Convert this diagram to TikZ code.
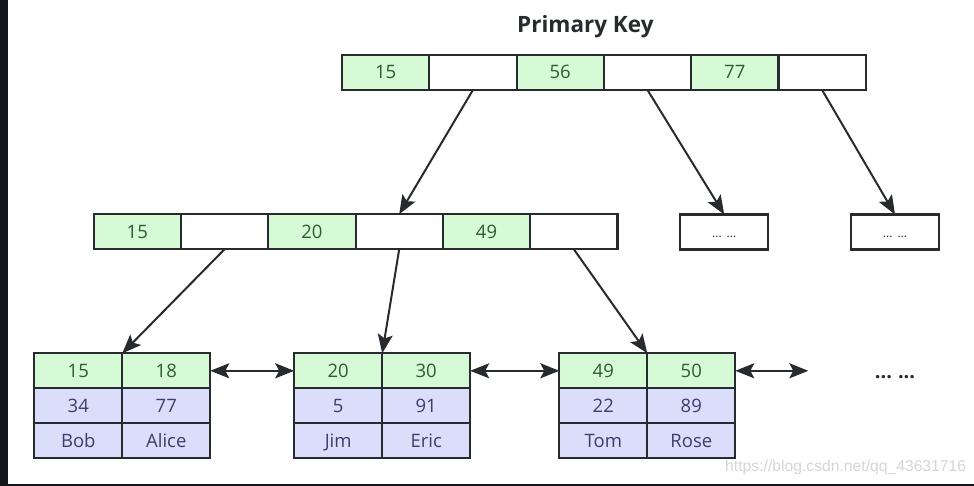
\documentclass[tikz,border=0pt]{standalone}
\usepackage{fontspec}
\setmainfont{Open Sans}
\usepackage{tikz}
\usetikzlibrary{positioning,arrows.meta}
\definecolor{verdeclave}{RGB}{214,250,214}
\definecolor{azuldato}{RGB}{219,222,250}
\definecolor{borde}{RGB}{40,43,45}
\definecolor{textoverde}{RGB}{47,92,47}
\definecolor{textoazul}{RGB}{58,62,108}
\definecolor{marco}{RGB}{20,22,30}
\tikzset{celda/.style={draw=borde, line width=2.1pt, minimum width=87.3pt, minimum height=35pt, inner sep=0pt, outer sep=0pt, text height=12.8pt, text depth=0pt, font=\fontsize{18.5}{18.5}\selectfont}}
\tikzset{clave/.style={celda, fill=verdeclave, text=textoverde}}
\tikzset{hueco/.style={celda, fill=white}}
\tikzset{hoja/.style={clave, minimum width=88pt}}
\tikzset{dato/.style={celda, fill=azuldato, text=textoazul, minimum width=88pt}}
\tikzset{puntos/.style={hueco, minimum width=88pt, text height=12pt, text=borde, font=\fontsize{12}{12}\selectfont}}
\tikzset{punta/.tip={Stealth[length=19pt, width=15pt, inset=4pt]}}
\tikzset{flecha/.style={line width=2pt, draw=borde, -punta}}
\tikzset{doble/.style={line width=2pt, draw=borde, punta-punta}}

\begin{document}
\begin{tikzpicture}[x=1pt, y=-1pt]
            \useasboundingbox (0,0) rectangle (974,486);
            \fill[white] (0,0) rectangle (974,486);
            \fill[marco] (0,0) rectangle (8,486);
            \fill[marco] (0,484) rectangle (974,486);

            \node[anchor=base, text=borde, font=\fontsize{22.5}{22.5}\selectfont\bfseries] (titulo) at (585.4,32.5) {Primary Key};

            \node[clave] (r1) at (385.6,72.5) {15};
            \node[hueco, right=0pt of r1] (r2) {};
            \node[clave, right=0pt of r2] (r3) {56};
            \node[hueco, right=0pt of r3] (r4) {};
            \node[clave, right=0pt of r4] (r5) {77};
            \node[hueco, right=0pt of r5] (r6) {};

            \node[clave] (m1) at (137.3,231.7) {15};
            \node[hueco, right=0pt of m1] (m2) {};
            \node[clave, right=0pt of m2] (m3) {20};
            \node[hueco, right=0pt of m3] (m4) {};
            \node[clave, right=0pt of m4] (m5) {49};
            \node[hueco, right=0pt of m5] (m6) {};
            \node[puntos] (m7) at (724.2,232) {...\hspace{5pt}...};
            \node[puntos] (m8) at (895,232) {...\hspace{5pt}...};

            \node[hoja] (a1) at (78.3,370.8) {15};
            \node[hoja, right=0pt of a1] (a2) {18};
            \node[dato, below=0pt of a1] (a3) {34};
            \node[dato, below=0pt of a2] (a4) {77};
            \node[dato, below=0pt of a3] (a5) {Bob};
            \node[dato, below=0pt of a4] (a6) {Alice};

            \node[hoja] (b1) at (338.2,370.8) {20};
            \node[hoja, right=0pt of b1] (b2) {30};
            \node[dato, below=0pt of b1] (b3) {5};
            \node[dato, below=0pt of b2] (b4) {91};
            \node[dato, below=0pt of b3] (b5) {Jim};
            \node[dato, below=0pt of b4] (b6) {Eric};

            \node[hoja] (c1) at (603.3,370.8) {49};
            \node[hoja, right=0pt of c1] (c2) {50};
            \node[dato, below=0pt of c1] (c3) {22};
            \node[dato, below=0pt of c2] (c4) {89};
            \node[dato, below=0pt of c3] (c5) {Tom};
            \node[dato, below=0pt of c4] (c6) {Rose};

            \coordinate (sig) at (808.3,370.8);
            \node[anchor=base, text=borde, font=\fontsize{20}{20}\selectfont\bfseries] (fin) at (895,378) {...\hspace{6pt}...};

            \draw[flecha] (r2.south) to (m4.north);
            \draw[flecha] (r4.south) to (m7.north);
            \draw[flecha] (r6.south) to (m8.north);
            \draw[flecha] (m2.south) to (a1.north east);
            \draw[flecha] (m4.south) to (b1.north east);
            \draw[flecha] (m6.south) to (c1.north east);
            \draw[doble] (a2.east) to (b1.west);
            \draw[doble] (b2.east) to (c1.west);
            \draw[doble] (c2.east) to (sig);

            \node[anchor=base west, text=black!16, font=\fontspec{Liberation Sans}\fontsize{15.7}{15.7}\selectfont] (marca) at (721.7,471) {https://blog.csdn.net/qq\_43631716};
        \end{tikzpicture}
\end{document}
